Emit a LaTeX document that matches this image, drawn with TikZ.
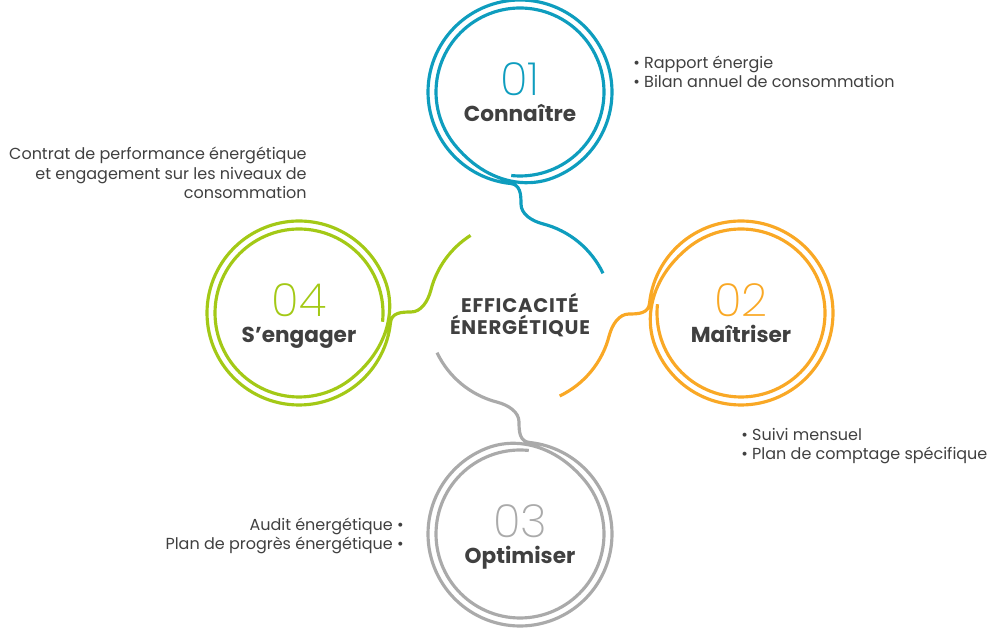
\documentclass[tikz,border=0pt]{standalone}
\usepackage{fontspec}
\setmainfont{Poppins}
\newfontfamily\numfont{Poppins ExtraLight}
\usetikzlibrary{positioning}

\definecolor{blueA}{RGB}{14,157,190}
\definecolor{orangeA}{RGB}{249,168,37}
\definecolor{greyA}{RGB}{170,170,170}
\definecolor{greenA}{RGB}{163,201,22}
\definecolor{ink}{RGB}{64,64,64}

\tikzset{
  wire/.style={line width=1.8pt},
  numtxt/.style={font=\numfont\fontsize{26}{26}\selectfont, anchor=base, inner sep=0pt},
  title/.style={font=\bfseries\fontsize{12.3}{14}\selectfont, text=ink, anchor=base, inner sep=0pt},
  core/.style={font=\bfseries\fontsize{11.2}{12.5}\selectfont\addfontfeatures{LetterSpace=4},
    text=ink, align=center, inner sep=0pt},
  info/.style={font=\fontsize{9.1}{11.34}\selectfont, text=ink, inner sep=0pt}
}

\begin{document}
\begin{tikzpicture}[x=0.02cm, y=0.02cm,
    declare function={ramp(\t)=min(1,max(0,(\t-220)/70)); ringr(\t)=84+8*ramp(\t)^2*(3-2*ramp(\t));}]
  \useasboundingbox (0,0) rectangle (1000,628);

  % centre and the four steps
  \node[core] (core) at (520,313) {EFFICACITÉ\\ÉNERGÉTIQUE};
  \coordinate (s1) at (520,536);
  \coordinate (s2) at (741,315);
  \coordinate (s3) at (520,94);
  \coordinate (s4) at (299,315);

  % rings, s-links and quarter arcs
  \foreach \s/\c/\r/\e in {s1/blueA/0/25.5, s2/orangeA/-90/25.5, s3/greyA/-180/25.5, s4/greenA/-270/32.5}{
    \begin{scope}[shift={(\s)}, rotate=\r]
      \draw[wire, \c] plot[domain=-96:624, samples=241] (\x:{ringr(\x)})
        .. controls (0.3,-92.5) and (1,-102) .. (1,-112)
        .. controls (1,-122) and (11.4,-128.9) .. (23,-131.9)
        arc[start angle=75.5, end angle=\e, radius=92];
    \end{scope}
  }

  % numbers and titles
  \path (s1) ++(0,-4) node[numtxt, text=blueA] (n1) {01};
  \path (s1) ++(0,-30) node[title] (t1) {Connaître};
  \path (s2) ++(0,-4) node[numtxt, text=orangeA] (n2) {02};
  \path (s2) ++(0,-30) node[title] (t2) {Maîtriser};
  \path (s3) ++(0,-4) node[numtxt, text=greyA] (n3) {03};
  \path (s3) ++(0,-30) node[title] (t3) {Optimiser};
  \path (s4) ++(0,-4) node[numtxt, text=greenA] (n4) {04};
  \path (s4) ++(0,-30) node[title] (t4) {S’engager};

  % side notes (base = last line)
  \node[info, anchor=base west, align=left] (i1) at (633,540)
    {• Rapport énergie\\• Bilan annuel de consommation};
  \node[info, anchor=base east, align=right] (i4) at (307,429)
    {Contrat de performance énergétique\\et engagement sur les niveaux de\\consommation};
  \node[info, anchor=base west, align=left] (i2) at (741,168)
    {• Suivi mensuel\\• Plan de comptage spécifique};
  \node[info, anchor=base east, align=right] (i3) at (404,78)
    {Audit énergétique •\\Plan de progrès énergétique •};
\end{tikzpicture}
\end{document}
